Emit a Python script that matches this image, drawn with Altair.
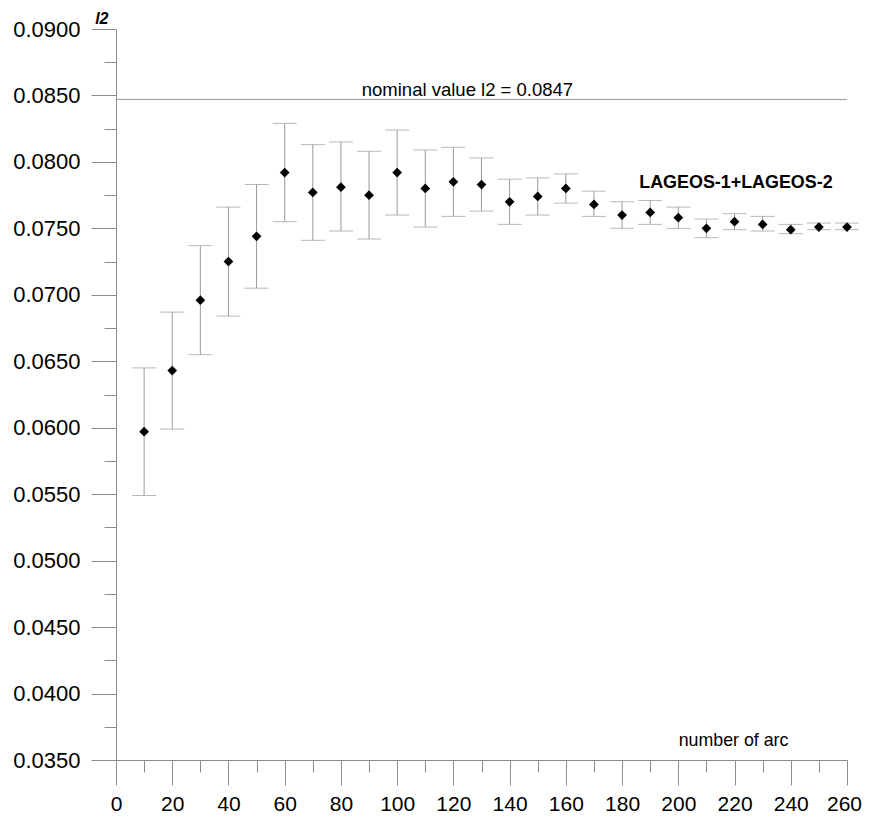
import altair as alt
import pandas as pd

# ---- data ----
arcs = [10, 20, 30, 40, 50, 60, 70, 80, 90, 100, 110, 120, 130,
        140, 150, 160, 170, 180, 190, 200, 210, 220, 230, 240, 250, 260]
l2 = [0.0597, 0.0643, 0.0696, 0.0725, 0.0744, 0.0792, 0.0777, 0.0781, 0.0775,
      0.0792, 0.0780, 0.0785, 0.0783, 0.0770, 0.0774, 0.0780, 0.0768, 0.0760,
      0.0762, 0.0758, 0.0750, 0.0755, 0.0753, 0.0749, 0.0751, 0.0751]
l2_high = [0.0645, 0.0687, 0.0737, 0.0766, 0.0783, 0.0829, 0.0813, 0.0815, 0.0808,
           0.0824, 0.0809, 0.0811, 0.0803, 0.0787, 0.0788, 0.0791, 0.0778, 0.0770,
           0.0771, 0.0766, 0.0757, 0.0761, 0.0759, 0.0753, 0.0754, 0.0754]
l2_low = [0.0549, 0.0599, 0.0655, 0.0684, 0.0705, 0.0755, 0.0741, 0.0748, 0.0742,
          0.0760, 0.0751, 0.0759, 0.0763, 0.0753, 0.0760, 0.0769, 0.0759, 0.0750,
          0.0753, 0.0750, 0.0743, 0.0749, 0.0748, 0.0746, 0.0749, 0.0749]

nominal_value = [0.0847]
nominal_label = ["nominal value l2 = 0.0847"]
series_label = ["LAGEOS-1+LAGEOS-2"]

x_ticks = [0, 10, 20, 30, 40, 50, 60, 70, 80, 90, 100, 110, 120, 130,
           140, 150, 160, 170, 180, 190, 200, 210, 220, 230, 240, 250, 260]
y_ticks = [0.0350, 0.0375, 0.0400, 0.0425, 0.0450, 0.0475, 0.0500, 0.0525,
           0.0550, 0.0575, 0.0600, 0.0625, 0.0650, 0.0675, 0.0700, 0.0725,
           0.0750, 0.0775, 0.0800, 0.0825, 0.0850, 0.0875, 0.0900]

df = pd.DataFrame({"arc": arcs, "l2": l2, "hi": l2_high, "lo": l2_low})

FONT = "Liberation Sans"
GRAY = "#8c8c8c"
BAR_GRAY = "#9a9a9a"

x_scale = alt.Scale(domain=[0, 260], nice=False, zero=False)
y_scale = alt.Scale(domain=[0.035, 0.090], nice=False, zero=False)

x_axis = alt.Axis(
    values=x_ticks,
    grid=False,
    domainColor=GRAY,
    tickColor=GRAY,
    tickSize={"condition": {"test": "datum.value % 20 == 0", "value": 25}, "value": 12},
    labelExpr="datum.value % 20 == 0 ? datum.label : ''",
    labelOffset={"condition": {"test": "datum.value == 260", "value": -3}, "value": 0},
    labelFont=FONT,
    labelFontSize=21,
    labelColor="#000000",
    labelPadding=8,
    labelOverlap=False,
    labelFlush=False,
    title="number of arc",
    titleFont=FONT,
    titleFontSize=17.8,
    titleFontWeight="normal",
    titleColor="#000000",
    titleAnchor="start",
    titleAlign="center",
    titleBaseline="alphabetic",
    titleX=617,
    titleY=-15,
)

y_axis = alt.Axis(
    values=y_ticks,
    grid=False,
    domainColor=GRAY,
    tickColor=GRAY,
    tickSize={"condition": {"test": "round(datum.value*10000) % 50 == 0", "value": 25}, "value": 12},
    labelExpr="round(datum.value*10000) % 50 == 0 ? format(datum.value, '.4f') : ''",
    labelFont=FONT,
    labelFontSize=22,
    labelColor="#000000",
    labelPadding=11,
    labelOverlap=False,
    labelFlush=False,
    title="l2",
    titleFont=FONT,
    titleFontSize=16,
    titleFontWeight="bold",
    titleFontStyle="italic",
    titleColor="#000000",
    titleAngle=0,
    titleAlign="right",
    titleBaseline="alphabetic",
    titleX=-8,
    titleY=-6,
)


def X(field):
    return alt.X(field, type="quantitative", scale=x_scale, axis=x_axis)


def Y(field):
    return alt.Y(field, type="quantitative", scale=y_scale, axis=y_axis)


base = alt.Chart(df)

bars = base.mark_rule(color=BAR_GRAY, strokeWidth=1).encode(
    x=X("arc"), y=Y("lo"), y2="hi:Q",
)

caps_hi = base.mark_tick(color=BAR_GRAY, orient="horizontal", size=24, thickness=1).encode(
    x=X("arc"), y=Y("hi"),
)
caps_lo = base.mark_tick(color=BAR_GRAY, orient="horizontal", size=24, thickness=1).encode(
    x=X("arc"), y=Y("lo"),
)

points = base.mark_point(shape="diamond", filled=True, color="#000000", size=95, opacity=1).encode(
    x=X("arc"), y=Y("l2"),
)

nom_df = pd.DataFrame({"v": nominal_value, "label": nominal_label, "x": [125]})
nominal_line = alt.Chart(nom_df).mark_rule(color=BAR_GRAY, strokeWidth=1).encode(
    y=Y("v"),
)
nominal_text = alt.Chart(nom_df).mark_text(
    font=FONT, fontSize=18.5, color="#000000", align="center", baseline="alphabetic", dy=-3
).encode(
    x=X("x"), y=Y("v"), text="label:N",
)

lab_df = pd.DataFrame({"x": [220.5], "y": [0.0780], "label": series_label})
series_text = alt.Chart(lab_df).mark_text(
    font=FONT, fontSize=17.9, fontWeight="bold", color="#000000", align="center", baseline="alphabetic"
).encode(
    x=X("x"), y=Y("y"), text="label:N",
)

chart = alt.layer(
    bars, nominal_line, caps_hi, caps_lo, points, nominal_text, series_text
).properties(
    width=731,
    height=731,
    autosize=alt.AutoSizeParams(type="none"),
    padding={"left": 108, "top": 21, "right": 15, "bottom": 55},
).configure_view(stroke=None).configure_axis(domainWidth=1, tickWidth=1)

chart.save("out.html", embed_options={"renderer": "svg", "actions": False})
